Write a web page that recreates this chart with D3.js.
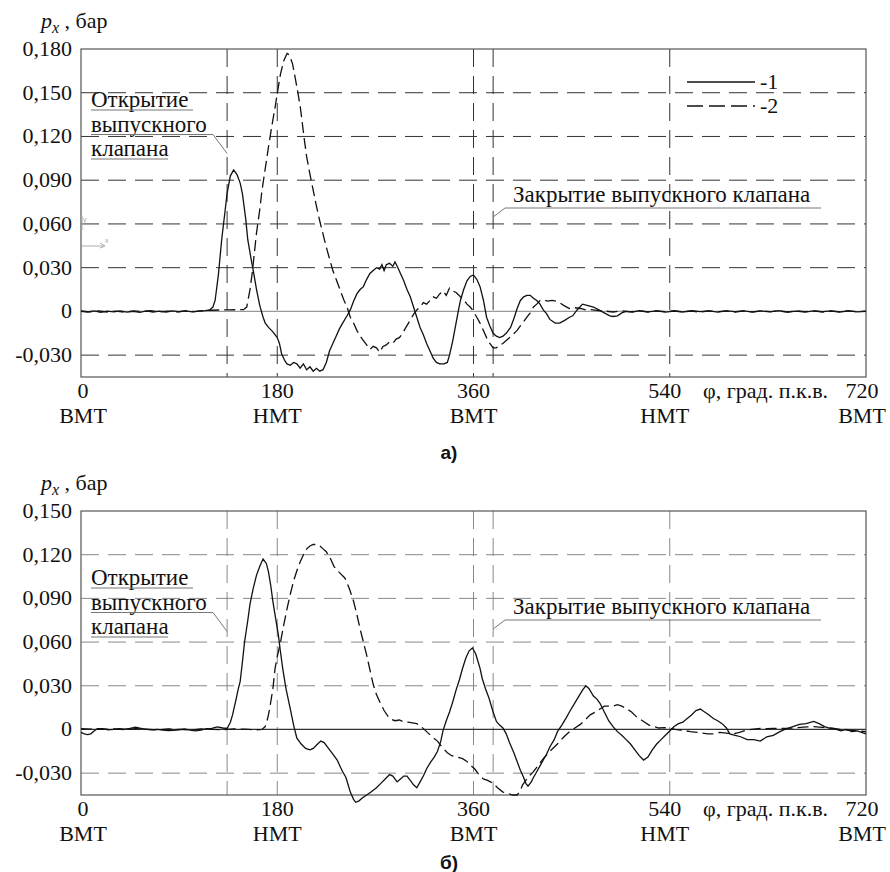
<!DOCTYPE html>
<html><head><meta charset="utf-8">
<script src="https://cdn.jsdelivr.net/npm/d3@7"></script>
<style>body{margin:0;background:#fff}svg{display:block}</style>
</head><body>
<svg id="c" width="890" height="872"></svg>
<script>
// ---------- DATA ----------
const xTicks = [0, 180, 360, 540, 720];
const xTickNames = ["ВМТ", "НМТ", "ВМТ", "НМТ", "ВМТ"];
const valveMarks = [134, 180, 360, 378, 540];   // vertical dashed guides (deg)
const openingAngle = 134, closingAngle = 378;
const topTicks = [-0.03, 0, 0.03, 0.06, 0.09, 0.12, 0.15, 0.18];
const botTicks = [-0.03, 0, 0.03, 0.06, 0.09, 0.12, 0.15];
const legendLabels = ["-1", "-2"];

// panel а), curve 1 (solid) [deg, bar]
const topSeries1 = [[0,0],[6,-0.0004],[12,0.0003],[18,-0.0006],[24,0.0002],[30,-0.0003],[36,0.0004],[42,-0.0005],[48,0],[54,-0.0006],[60,0.0003],[66,-0.0004],[72,0.0002],[78,-0.0005],[84,0.0003],[90,-0.0002],[96,0.0004],[102,-0.0003],[108,0.0002],[114,0.0005],[118,0.001],[121,0.003],[123,0.0075],[126,0.025],[129,0.049],[132,0.068],[134,0.081],[137,0.093],[140,0.097],[143,0.094],[146,0.088],[148,0.081],[151,0.064],[153,0.049],[156,0.036],[158,0.028],[161,0.015],[164,0.004],[167,-0.004],[169,-0.008],[172,-0.011],[176,-0.014],[180,-0.018],[182,-0.022],[184,-0.029],[187,-0.034],[189,-0.036],[192,-0.037],[195,-0.035],[198,-0.036],[201,-0.039],[204,-0.036],[207,-0.040],[210,-0.038],[213,-0.041],[216,-0.039],[219,-0.041],[222,-0.040],[225,-0.035],[228,-0.027],[231,-0.022],[234,-0.017],[237,-0.012],[240,-0.008],[244,-0.003],[247,0.001],[250,0.007],[253,0.012],[256,0.015],[259,0.017],[262,0.022],[265,0.026],[268,0.028],[271,0.030],[274,0.029],[276,0.032],[278,0.028],[280,0.032],[283,0.033],[286,0.031],[288,0.034],[290,0.031],[293,0.026],[296,0.021],[299,0.015],[302,0.010],[305,0.003],[308,-0.004],[311,-0.011],[314,-0.016],[317,-0.022],[320,-0.027],[323,-0.032],[326,-0.035],[329,-0.036],[333,-0.036],[336,-0.035],[338,-0.030],[341,-0.020],[344,-0.008],[346,0.000],[348,0.0075],[351,0.015],[354,0.021],[357,0.024],[360,0.025],[363,0.022],[366,0.017],[369,0.008],[372,-0.004],[375,-0.010],[378,-0.015],[381,-0.017],[384,-0.018],[387,-0.017],[390,-0.015],[394,-0.011],[397,-0.005],[400,0.002],[403,0.0075],[406,0.010],[409,0.011],[412,0.011],[415,0.009],[418,0.0075],[421,0.005],[424,0.001],[427,-0.0015],[430,-0.0055],[435,-0.008],[439,-0.008],[444,-0.006],[448,-0.004],[451,-0.003],[455,0.001],[460,0.005],[465,0.004],[470,0.003],[475,0.001],[480,-0.001],[485,-0.003],[488,-0.0035],[492,-0.003],[496,-0.001],[500,0],[506,-0.0004],[512,0.0005],[520,-0.0003],[528,0.0004],[536,-0.0005],[544,0.0002],[552,-0.0004],[560,0.0005],[568,-0.0002],[576,0.0004],[584,-0.0005],[592,0.0003],[600,-0.0002],[608,0.0004],[616,-0.0005],[624,0.0003],[632,-0.0003],[640,0.0005],[648,-0.0004],[656,0.0002],[664,-0.0005],[672,0.0004],[680,-0.0002],[688,0.0003],[696,-0.0004],[704,0.0004],[712,-0.0003],[720,0]];

// panel а), curve 2 (dashed)
const topSeries2 = [[0,0.0003],[8,-0.0003],[16,0.0004],[24,-0.0004],[32,0.0002],[40,-0.0005],[48,0.0004],[56,-0.0002],[64,0.0005],[72,-0.0003],[80,0.0002],[88,-0.0004],[96,0.0003],[104,-0.0002],[112,0.0005],[120,0.0008],[128,0.001],[136,0.001],[144,0.0012],[149,0.0012],[152,0.003],[155,0.015],[157,0.026],[159,0.040],[161,0.054],[164,0.070],[166,0.083],[169,0.098],[172,0.113],[175,0.127],[178,0.140],[181,0.154],[183,0.163],[186,0.172],[189,0.177],[191,0.176],[194,0.170],[196,0.162],[198,0.154],[201,0.141],[203,0.129],[205,0.117],[207,0.106],[210,0.094],[213,0.083],[216,0.072],[219,0.062],[222,0.053],[225,0.044],[228,0.036],[231,0.028],[234,0.022],[238,0.014],[241,0.008],[244,0.003],[247,-0.004],[250,-0.008],[253,-0.013],[256,-0.017],[259,-0.020],[262,-0.023],[265,-0.026],[268,-0.024],[271,-0.025],[274,-0.028],[277,-0.024],[280,-0.023],[283,-0.021],[286,-0.022],[289,-0.019],[292,-0.018],[295,-0.015],[298,-0.011],[302,-0.006],[305,-0.002],[308,0.001],[311,0.003],[314,0.006],[317,0.005],[320,0.0075],[323,0.010],[326,0.009],[329,0.012],[332,0.014],[335,0.011],[338,0.016],[341,0.014],[344,0.013],[348,0.010],[351,0.008],[354,0.005],[357,0.003],[360,0.000],[363,-0.004],[366,-0.008],[369,-0.013],[372,-0.018],[375,-0.022],[378,-0.025],[381,-0.025],[384,-0.023],[387,-0.022],[390,-0.020],[393,-0.018],[396,-0.016],[400,-0.013],[403,-0.010],[406,-0.007],[409,-0.004],[412,-0.001],[415,0.003],[418,0.005],[421,0.0075],[424,0.008],[428,0.007],[432,0.0075],[436,0.007],[439,0.006],[443,0.004],[448,0.002],[453,0.0025],[458,0.002],[463,0.001],[468,0.0012],[473,0.0007],[480,0.0003],[488,-0.0004],[496,0.0004],[504,-0.0003],[512,0.0004],[520,-0.0004],[528,0.0003],[536,-0.0002],[544,0.0005],[552,-0.0003],[560,0.0002],[568,-0.0005],[576,0.0003],[584,-0.0002],[592,0.0004],[600,-0.0004],[608,0.0003],[616,-0.0003],[624,0.0005],[632,-0.0002],[640,0.0003],[648,-0.0005],[656,0.0004],[664,-0.0002],[672,0.0003],[680,-0.0004],[688,0.0002],[696,-0.0003],[704,0.0004],[712,-0.0002],[720,0.0002]];

// panel б), curve 1 (solid)
const botSeries1 = [[0,-0.002],[3,-0.003],[6,-0.0035],[9,-0.003],[12,-0.001],[15,0.0005],[20,0.0005],[25,-0.0003],[30,0],[35,0.0005],[40,0.0003],[45,0.0007],[50,0.0015],[55,0.0008],[60,0],[65,-0.0003],[70,0],[75,-0.0004],[80,-0.0008],[85,-0.0006],[90,-0.0002],[95,0.0004],[100,-0.0004],[105,-0.0010],[110,-0.0004],[115,0.0005],[120,0.0008],[125,0.0018],[130,0.0010],[134,0.0007],[137,0.005],[139,0.010],[142,0.020],[144,0.027],[146,0.033],[148,0.046],[150,0.060],[153,0.075],[155,0.086],[158,0.097],[161,0.106],[164,0.112],[167,0.117],[170,0.114],[172,0.108],[174,0.099],[176,0.088],[179,0.074],[181,0.065],[183,0.053],[185,0.042],[188,0.028],[192,0.014],[195,0.003],[198,-0.006],[202,-0.010],[206,-0.013],[210,-0.014],[213,-0.013],[217,-0.010],[220,-0.008],[223,-0.009],[227,-0.013],[231,-0.017],[235,-0.021],[238,-0.026],[240,-0.029],[243,-0.033],[245,-0.038],[247,-0.043],[250,-0.048],[252,-0.050],[255,-0.049],[258,-0.047],[262,-0.045],[266,-0.043],[271,-0.040],[275,-0.037],[279,-0.034],[283,-0.031],[286,-0.032],[290,-0.036],[293,-0.034],[296,-0.032],[299,-0.032],[302,-0.035],[305,-0.038],[308,-0.040],[311,-0.036],[314,-0.032],[317,-0.027],[321,-0.022],[324,-0.019],[327,-0.015],[330,-0.008],[332,-0.001],[335,0.006],[338,0.012],[341,0.019],[344,0.027],[347,0.034],[350,0.042],[353,0.049],[356,0.054],[359,0.056],[362,0.052],[364,0.047],[366,0.042],[368,0.035],[371,0.028],[374,0.022],[376,0.017],[378,0.012],[381,0.0055],[384,0.003],[387,0.001],[390,-0.003],[393,-0.009],[397,-0.016],[400,-0.022],[403,-0.028],[406,-0.033],[408,-0.037],[410,-0.039],[413,-0.036],[415,-0.033],[418,-0.029],[421,-0.025],[424,-0.021],[427,-0.017],[430,-0.012],[434,-0.007],[437,-0.0015],[441,0.003],[445,0.008],[448,0.012],[452,0.017],[456,0.022],[460,0.027],[463,0.030],[466,0.028],[470,0.023],[473,0.021],[476,0.018],[480,0.012],[484,0.006],[488,0.002],[492,-0.0015],[496,-0.004],[500,-0.007],[504,-0.010],[508,-0.014],[512,-0.018],[516,-0.021],[520,-0.019],[524,-0.014],[528,-0.010],[532,-0.007],[536,-0.004],[540,-0.001],[544,0.002],[548,0.004],[552,0.005],[556,0.0075],[560,0.010],[564,0.013],[568,0.014],[572,0.012],[576,0.010],[580,0.0075],[584,0.006],[588,0.004],[592,0.001],[595,-0.003],[600,-0.004],[605,-0.005],[611,-0.007],[617,-0.007],[623,-0.008],[629,-0.005],[635,-0.004],[641,-0.0015],[647,0.0005],[653,0.002],[659,0.0035],[665,0.004],[672,0.0055],[677,0.004],[682,0.002],[687,0.0007],[692,0.0003],[697,-0.001],[702,0],[707,-0.0015],[712,-0.001],[716,-0.002],[720,-0.003]];

// panel б), curve 2 (dashed)
const botSeries2 = [[0,0.0005],[10,0.0003],[20,0],[30,0.0004],[40,-0.0002],[50,0.0005],[60,0.0002],[70,-0.0003],[80,0.0004],[90,0],[100,-0.0004],[110,0.0003],[120,0],[130,-0.0002],[140,0.0004],[150,0.0002],[160,-0.0003],[166,0],[169,0.002],[171,0.007],[173,0.014],[176,0.028],[178,0.042],[180,0.050],[183,0.060],[186,0.072],[189,0.083],[192,0.093],[195,0.102],[198,0.109],[201,0.115],[204,0.120],[207,0.124],[210,0.126],[213,0.127],[216,0.127],[219,0.126],[222,0.124],[225,0.122],[229,0.117],[232,0.112],[234,0.110],[238,0.107],[242,0.104],[246,0.097],[250,0.088],[253,0.079],[256,0.069],[259,0.060],[262,0.051],[265,0.041],[268,0.031],[271,0.024],[274,0.019],[278,0.013],[283,0.0075],[288,0.006],[292,0.0065],[295,0.0055],[300,0.005],[304,0.0045],[308,0.004],[312,0.002],[317,-0.0015],[322,-0.005],[327,-0.008],[331,-0.012],[336,-0.016],[340,-0.018],[345,-0.019],[350,-0.020],[354,-0.022],[358,-0.025],[361,-0.027],[365,-0.031],[369,-0.034],[373,-0.035],[378,-0.037],[382,-0.040],[387,-0.043],[392,-0.044],[396,-0.045],[400,-0.045],[403,-0.042],[405,-0.038],[408,-0.035],[411,-0.032],[415,-0.029],[418,-0.026],[421,-0.023],[424,-0.020],[430,-0.015],[437,-0.010],[443,-0.005],[448,-0.0015],[453,0.001],[458,0.0035],[463,0.007],[467,0.010],[472,0.012],[476,0.014],[480,0.016],[484,0.016],[488,0.016],[492,0.017],[496,0.016],[501,0.014],[505,0.012],[509,0.009],[513,0.007],[517,0.005],[521,0.003],[525,0.002],[530,0.001],[535,0.0012],[540,0.0007],[545,0],[550,-0.0005],[555,-0.001],[559,-0.0015],[565,-0.002],[570,-0.0025],[575,-0.003],[580,-0.003],[586,-0.002],[592,-0.0025],[598,-0.003],[604,-0.002],[610,-0.0005],[617,0.0003],[623,0.0007],[629,0.0005],[635,0.0008],[641,0.0007],[647,0.0007],[653,0.001],[660,0.0015],[666,0.0018],[672,0.002],[680,0.0015],[688,0.001],[696,0],[704,-0.0005],[712,-0.001],[720,-0.0015]];

// ---------- DRAW ----------
const svg = d3.select("#c");
const SERIF = "Liberation Serif, Times New Roman, Times, DejaVu Serif, serif";
const SANS = "Liberation Sans, Arial, sans-serif";
const fmt = v => v === 0 ? "0" : d3.format(".3f")(v).replace(".", ",").replace("−", "-");

function txt(g, x, y, s, size, extra) {
  const t = g.append("text").attr("x", x).attr("y", y).style("font-family", SERIF)
    .style("font-size", size + "px").attr("fill", "#111").text(s);
  if (extra) extra(t);
  return t;
}

function panel(o) {
  const x = d3.scaleLinear().domain([0, 720]).range([81, 866]);
  const y = d3.scaleLinear().domain(o.domain).range([o.bottom, o.top]);
  const g = svg.append("g");

  g.selectAll(".hg").data(o.ticks.filter(t => t !== 0 && t !== o.domain[1])).join("line")
    .attr("x1", x(0)).attr("x2", x(720)).attr("y1", d => y(d)).attr("y2", d => y(d))
    .attr("stroke", o.grid).attr("stroke-width", 1).attr("stroke-dasharray", "18,9");
  g.selectAll(".vg").data(valveMarks).join("line")
    .attr("x1", d => x(d)).attr("x2", d => x(d)).attr("y1", o.top).attr("y2", o.bottom)
    .attr("stroke", o.grid).attr("stroke-width", 1).attr("stroke-dasharray", "18,9");
  g.append("line").attr("x1", x(0)).attr("x2", x(720)).attr("y1", y(0)).attr("y2", y(0))
    .attr("stroke", o.zero).attr("stroke-width", 1.2);
  g.append("rect").attr("x", x(0)).attr("y", o.top).attr("width", x(720) - x(0)).attr("height", o.bottom - o.top)
    .attr("fill", "none").attr("stroke", "#555").attr("stroke-width", 1.2);

  o.ticks.forEach(d => txt(g, 72, y(d) + 7, fmt(d), 22, t => t.attr("text-anchor", "end")));

  const shift = [2, 0, 0, -5, -4];
  xTicks.forEach((t, i) => {
    txt(g, x(t) + shift[i], o.bottom + 21, String(t), 22, e => e.attr("text-anchor", "middle"));
    txt(g, x(t) + shift[i], o.bottom + 46, xTickNames[i], 22, e => e.attr("text-anchor", "middle"));
  });
  txt(g, 703, o.bottom + 21, "φ, град. п.к.в.", 22);

  const tt = txt(g, 41, o.top - 21, "", 22);
  tt.append("tspan").style("font-style", "italic").text("p");
  tt.append("tspan").style("font-style", "italic").style("font-size", "16px").attr("dy", 5).text("x");
  tt.append("tspan").attr("dy", -5).text(" , бар");

  const line = d3.line().x(d => x(d[0])).y(d => y(d[1]));
  g.append("path").attr("d", line(o.s2)).attr("fill", "none").attr("stroke", "#111")
    .attr("stroke-width", 1.3).attr("stroke-dasharray", "11,5");
  g.append("path").attr("d", line(o.s1)).attr("fill", "none").attr("stroke", "#111")
    .attr("stroke-width", 1.3);

  const ax = 91, aTop = o.annTop;
  const opLines = ["Открытие", "выпускного", "клапана"];
  const ulEnd = [193, 213, 168];
  opLines.forEach((s, i) => {
    txt(g, ax, aTop + i * 24.5, s, 23);
    g.append("line").attr("x1", ax).attr("x2", ulEnd[i]).attr("y1", aTop + i * 24.5 + 3).attr("y2", aTop + i * 24.5 + 3)
      .attr("stroke", "#777").attr("stroke-width", 1);
  });
  g.append("line").attr("x1", 213).attr("y1", aTop + 24.5 + 3).attr("x2", x(openingAngle)).attr("y2", aTop + 24.5 + 22)
    .attr("stroke", "#777").attr("stroke-width", 1);

  const cb = o.closeBase;
  txt(g, 513, cb, "Закрытие выпускного клапана", 23);
  g.append("line").attr("x1", 505).attr("x2", 821).attr("y1", cb + 6).attr("y2", cb + 6).attr("stroke", "#777").attr("stroke-width", 1);
  g.append("line").attr("x1", 505).attr("y1", cb + 6).attr("x2", x(closingAngle)).attr("y2", cb + 15).attr("stroke", "#777").attr("stroke-width", 1);

  g.append("text").attr("x", 449).attr("y", o.labelY).attr("text-anchor", "middle").style("font-family", SANS)
    .style("font-weight", "bold").style("font-size", "19px").attr("fill", "#111").text(o.label);
  return {x, y, g};
}

const P1 = panel({top: 49, bottom: 377, domain: [-0.045, 0.18], ticks: topTicks, grid: "#333", zero: "#999",
  s1: topSeries1, s2: topSeries2, annTop: 107, closeBase: 202, label: "а)", labelY: 459});
const P2 = panel({top: 511, bottom: 795, domain: [-0.045, 0.15], ticks: botTicks, grid: "#888", zero: "#333",
  s1: botSeries1, s2: botSeries2, annTop: 585, closeBase: 614, label: "б)", labelY: 869});

const lg = P1.g.append("g");
[0, 1].forEach(i => {
  lg.append("line").attr("x1", 687).attr("x2", 755).attr("y1", 82 + i * 24).attr("y2", 82 + i * 24)
    .attr("stroke", "#111").attr("stroke-width", 1.3).attr("stroke-dasharray", i ? "16,6" : null);
  txt(lg, 760, 89 + i * 24, legendLabels[i], 22);
});

const gz = P1.g.append("g").attr("stroke", "#aaa").attr("fill", "none");
gz.append("line").attr("x1", 82).attr("x2", 82).attr("y1", 216).attr("y2", 230);
gz.append("line").attr("x1", 82).attr("x2", 104).attr("y1", 246).attr("y2", 246);
gz.append("path").attr("d", "M100,243 L105,246 L100,248");
P1.g.append("text").attr("x", 83).attr("y", 222).style("font-size", "7px").attr("fill", "#aaa").style("font-family", SANS).text("y");
P1.g.append("text").attr("x", 105).attr("y", 243).style("font-size", "7px").attr("fill", "#aaa").style("font-family", SANS).text("x");
</script>
</body></html>
